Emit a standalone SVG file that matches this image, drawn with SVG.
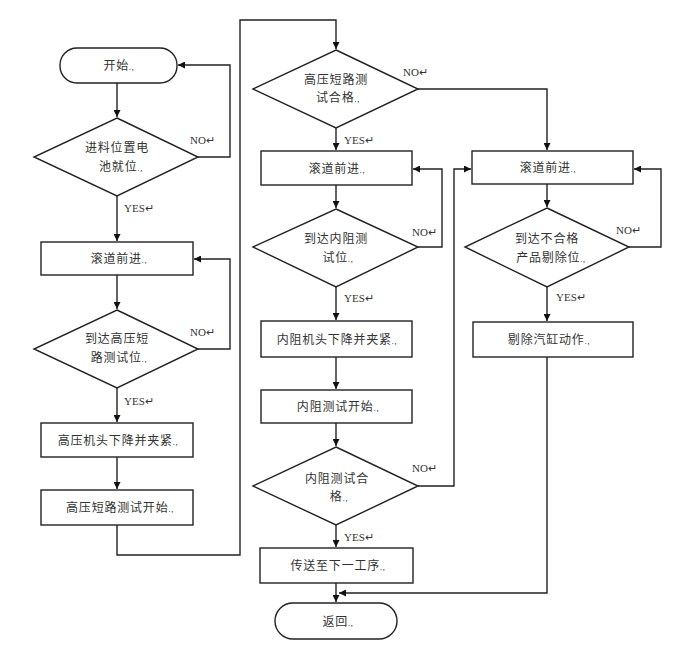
<svg xmlns="http://www.w3.org/2000/svg" width="686" height="656" viewBox="0 0 686 656">
<style>
.s{fill:#fff;stroke:#222;stroke-width:1.4}
.t{font-family:"Noto Sans CJK SC","Liberation Sans",sans-serif;font-size:12px;fill:#333;text-anchor:middle;letter-spacing:0.8px}
.m{font-size:7px}
.l{font-family:"Liberation Serif",serif;font-size:11px;fill:#333}
.c{fill:none;stroke:#222;stroke-width:1.4}
</style>
<defs>
<marker id="a" viewBox="0 0 10 10" refX="10" refY="5" markerWidth="7" markerHeight="7" orient="auto" markerUnits="userSpaceOnUse">
<path d="M0,0L10,5L0,10z" fill="#111"/>
</marker>
</defs>
<rect width="686" height="656" fill="#fff"/>
<g id="connectors">
<path class="c" d="M117,83V117" marker-end="url(#a)"/>
<path class="c" d="M117,196V241" marker-end="url(#a)"/>
<path class="c" d="M198,157H230V65H178" marker-end="url(#a)"/>
<path class="c" d="M117,275V309" marker-end="url(#a)"/>
<path class="c" d="M198,349H230V259H194" marker-end="url(#a)"/>
<path class="c" d="M117,388V422" marker-end="url(#a)"/>
<path class="c" d="M117,457V489" marker-end="url(#a)"/>
<path class="c" d="M117,525V555H240V20H336V49" marker-end="url(#a)"/>
<path class="c" d="M336,128V150" marker-end="url(#a)"/>
<path class="c" d="M418,89H547V150" marker-end="url(#a)"/>
<path class="c" d="M336,185V208" marker-end="url(#a)"/>
<path class="c" d="M418,247H442V169H413" marker-end="url(#a)"/>
<path class="c" d="M336,287V320" marker-end="url(#a)"/>
<path class="c" d="M336,357V389" marker-end="url(#a)"/>
<path class="c" d="M336,423V446" marker-end="url(#a)"/>
<path class="c" d="M336,525V547" marker-end="url(#a)"/>
<path class="c" d="M418,486H454V169H471" marker-end="url(#a)"/>
<path class="c" d="M336,583V602" marker-end="url(#a)"/>
<path class="c" d="M547,184V207" marker-end="url(#a)"/>
<path class="c" d="M629,247H661V169H634" marker-end="url(#a)"/>
<path class="c" d="M547,287V321" marker-end="url(#a)"/>
<path class="c" d="M547,357V593H339" marker-end="url(#a)"/>
</g>
<g id="labels">
<text class="l" x="190" y="144">NO↵</text>
<text class="l" x="124" y="212">YES↵</text>
<text class="l" x="190" y="336">NO↵</text>
<text class="l" x="124" y="405">YES↵</text>
<text class="l" x="403" y="76">NO↵</text>
<text class="l" x="344" y="144">YES↵</text>
<text class="l" x="412" y="236">NO↵</text>
<text class="l" x="344" y="302">YES↵</text>
<text class="l" x="412" y="472">NO↵</text>
<text class="l" x="344" y="541">YES↵</text>
<text class="l" x="616" y="234">NO↵</text>
<text class="l" x="556" y="301">YES↵</text>
</g>
<g id="start"><rect class="s" x="60" y="48" width="117" height="35" rx="17"/><text class="t" x="119" y="70">开始<tspan class="m">.,</tspan></text></g>
<g id="d1"><path class="s" d="M117,118L198,157L117,196L34,157Z"/><text class="t" x="117" y="152">进料位置电</text><text class="t" x="121" y="171">池就位<tspan class="m">.,</tspan></text></g>
<g id="r1"><rect class="s" x="41" y="242" width="152" height="33"/><text class="t" x="119" y="263">滚道前进<tspan class="m">.,</tspan></text></g>
<g id="d2"><path class="s" d="M117,310L198,349L117,388L34,349Z"/><text class="t" x="117" y="343">到达高压短</text><text class="t" x="119" y="362">路测试位<tspan class="m">.,</tspan></text></g>
<g id="r2"><rect class="s" x="41" y="423" width="152" height="34"/><text class="t" x="118" y="445">高压机头下降并夹紧<tspan class="m">.,</tspan></text></g>
<g id="r3"><rect class="s" x="41" y="490" width="152" height="35"/><text class="t" x="120" y="512">高压短路测试开始<tspan class="m">.,</tspan></text></g>
<g id="d3"><path class="s" d="M336,50L418,89L336,128L253,89Z"/><text class="t" x="336" y="84">高压短路测</text><text class="t" x="338" y="102">试合格<tspan class="m">.,</tspan></text></g>
<g id="r4"><rect class="s" x="261" y="151" width="151" height="34"/><text class="t" x="337" y="173">滚道前进<tspan class="m">.,</tspan></text></g>
<g id="d4"><path class="s" d="M336,209L418,247L336,287L253,247Z"/><text class="t" x="336" y="243">到达内阻测</text><text class="t" x="338" y="262">试位<tspan class="m">.,</tspan></text></g>
<g id="r5"><rect class="s" x="261" y="321" width="151" height="36"/><text class="t" x="337" y="344">内阻机头下降并夹紧<tspan class="m">.,</tspan></text></g>
<g id="r6"><rect class="s" x="261" y="390" width="151" height="33"/><text class="t" x="338" y="411">内阻测试开始<tspan class="m">.,</tspan></text></g>
<g id="d5"><path class="s" d="M336,447L418,486L336,525L253,486Z"/><text class="t" x="337" y="483">内阻测试合</text><text class="t" x="339" y="501">格<tspan class="m">.,</tspan></text></g>
<g id="r7"><rect class="s" x="260" y="548" width="153" height="35"/><text class="t" x="338" y="570">传送至下一工序<tspan class="m">.,</tspan></text></g>
<g id="end"><rect class="s" x="275" y="603" width="122" height="36" rx="18"/><text class="t" x="338" y="626">返回<tspan class="m">.,</tspan></text></g>
<g id="r8"><rect class="s" x="472" y="151" width="161" height="33"/><text class="t" x="548" y="172">滚道前进<tspan class="m">.,</tspan></text></g>
<g id="d6"><path class="s" d="M547,208L629,247L547,287L465,247Z"/><text class="t" x="547" y="243">到达不合格</text><text class="t" x="551" y="262">产品剔除位<tspan class="m">.,</tspan></text></g>
<g id="r9"><rect class="s" x="473" y="322" width="160" height="35"/><text class="t" x="549" y="344">剔除汽缸动作<tspan class="m">.,</tspan></text></g>
</svg>
